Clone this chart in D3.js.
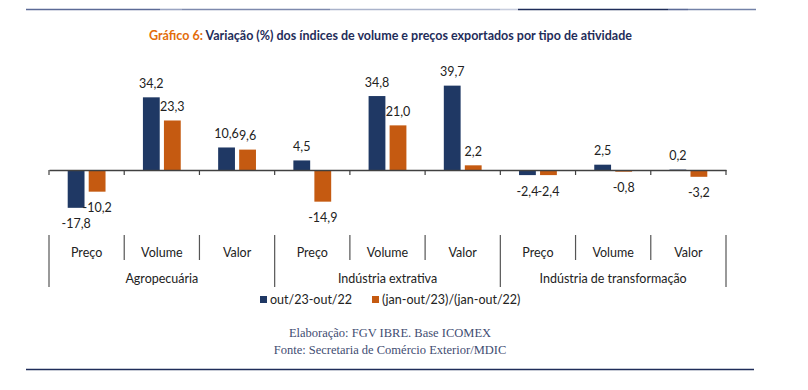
<!DOCTYPE html>
<html><head><meta charset="utf-8">
<script src="https://cdn.jsdelivr.net/npm/d3@7"></script>
<style>body{margin:0;background:#fff;}svg{display:block;}</style>
</head><body>
<svg id="c" width="808" height="390"></svg>
<script>
const groups = ["Agropecuária", "Indústria extrativa", "Indústria de transformação"];
const subcats = ["Preço", "Volume", "Valor"];
const seriesNames = ["out/23-out/22", "(jan-out/23)/(jan-out/22)"];
const seriesA = [-17.8, 34.2, 10.6, 4.5, 34.8, 39.7, -2.4, 2.5, 0.2];
const seriesB = [-10.2, 23.3, 9.6, -14.9, 21.0, 2.2, -2.4, -0.8, -3.2];
const colors = ["#1f3864", "#c55a11"];

const svg = d3.select("#c");
const font = "Lato, 'Open Sans', sans-serif";

// top decorative line
const topSegs = [[26,160,"#5b6a96"],[160,182,"#9aa4c2"],[182,330,"#7d89ad"],[330,500,"#aab3cb"],[500,518,"#c8cede"],[518,668,"#1f2d5a"],[668,688,"#5b6a96"],[688,756,"#7382a8"]];
svg.selectAll("line.top").data(topSegs).join("line")
  .attr("x1", d=>d[0]).attr("x2", d=>d[1]).attr("y1", 9.5).attr("y2", 9.5)
  .attr("stroke", d=>d[2]).attr("stroke-width", 1.6);

// title
const title = svg.append("text").attr("x", 390.5).attr("y", 40).attr("text-anchor","middle")
  .attr("font-family", font).attr("font-weight","bold").attr("font-size", 12.5);
title.append("tspan").attr("fill","#e36c0a").text("Gráfico 6: ");
title.append("tspan").attr("fill","#1f2d5a").text("Variação (%) dos índices de volume e preços exportados por tipo de atividade");

// data
const cats = [];
groups.forEach(g => subcats.forEach(s => cats.push({g, s, key: g + "|" + s})));
cats.forEach((c,i) => { c.a = seriesA[i]; c.b = seriesB[i]; });

const x = d3.scaleBand().domain(cats.map(c=>c.key)).range([49, 726]).padding(0);
const xs = d3.scaleBand().domain([0,1]).range([0, x.bandwidth()]).paddingInner(0.2).paddingOuter(0.89);
const y = d3.scaleLinear().domain([-20, 40]).range([212.5, 85]);
const fmt = v => d3.format(".1f")(v).replace("\u2212", "-").replace(".", ",");

// bars
const g = svg.append("g");
cats.forEach(c => {
  [c.a, c.b].forEach((v, si) => {
    const bx = x(c.key) + xs(si);
    g.append("rect").attr("x", bx).attr("width", xs.bandwidth())
      .attr("y", Math.min(y(v), y(0))).attr("height", Math.abs(y(v) - y(0)))
      .attr("fill", colors[si]);
    g.append("text").attr("x", bx + xs.bandwidth()/2)
      .attr("y", v >= 0 ? y(v) - 9.5 : y(v) + 20.5)
      .attr("text-anchor","middle").attr("font-family", font).attr("font-size", 12.5)
      .attr("fill","#222").text(fmt(v));
  });
});

// axis
const axis = d3.axisBottom(x).tickSize(0).tickFormat("");
const ax = svg.append("g").attr("transform", `translate(0,${y(0)})`).call(axis);
ax.select(".domain").attr("stroke","#404040").attr("stroke-width",1.4);
const bounds = d3.range(10).map(i => 49 + i * x.step());
svg.selectAll("line.tk").data(bounds).join("line")
  .attr("x1", d=>d).attr("x2", d=>d).attr("y1", y(0)).attr("y2", y(0)+5)
  .attr("stroke","#404040").attr("stroke-width",1.2);

// multi-level labels
svg.selectAll("line.sep").data(bounds).join("line")
  .attr("x1", d=>d).attr("x2", d=>d).attr("y1", 235)
  .attr("y2", (d,i) => i % 3 === 0 ? 287 : 260)
  .attr("stroke","#555").attr("stroke-width",1.2);
svg.selectAll("text.sub").data(cats).join("text")
  .attr("x", c => x(c.key) + x.bandwidth()/2).attr("y", 256.5)
  .attr("text-anchor","middle").attr("font-family", font).attr("font-size", 12.5)
  .attr("fill","#222").text(c => c.s);
svg.selectAll("text.grp").data(groups).join("text")
  .attr("x", (d,i) => x(groups[i] + "|" + subcats[1]) + x.bandwidth()/2).attr("y", 282.5)
  .attr("text-anchor","middle").attr("font-family", font).attr("font-size", 12.5)
  .attr("fill","#222").text(d => d);

// legend
const legX = [260, 372];
seriesNames.forEach((n, i) => {
  svg.append("rect").attr("x", legX[i]).attr("y", 296).attr("width", 7).attr("height", 7).attr("fill", colors[i]);
  svg.append("text").attr("x", legX[i] + 10).attr("y", 304).attr("font-family", font).attr("font-size", 12.5)
    .attr("fill","#222").text(n);
});

// footer
svg.append("text").attr("x", 390).attr("y", 337).attr("text-anchor","middle")
  .attr("font-family","'Liberation Serif', 'DejaVu Serif', serif").attr("font-size", 12.5)
  .attr("fill","#3f4d72").text("Elaboração: FGV IBRE. Base ICOMEX");
svg.append("text").attr("x", 390).attr("y", 354).attr("text-anchor","middle")
  .attr("font-family","'Liberation Serif', 'DejaVu Serif', serif").attr("font-size", 12.5)
  .attr("fill","#3f4d72").text("Fonte: Secretaria de Comércio Exterior/MDIC");
svg.append("line").attr("x1", 26).attr("x2", 754).attr("y1", 369.5).attr("y2", 369.5)
  .attr("stroke","#1f2d5a").attr("stroke-width",1.6);
</script>
</body></html>
